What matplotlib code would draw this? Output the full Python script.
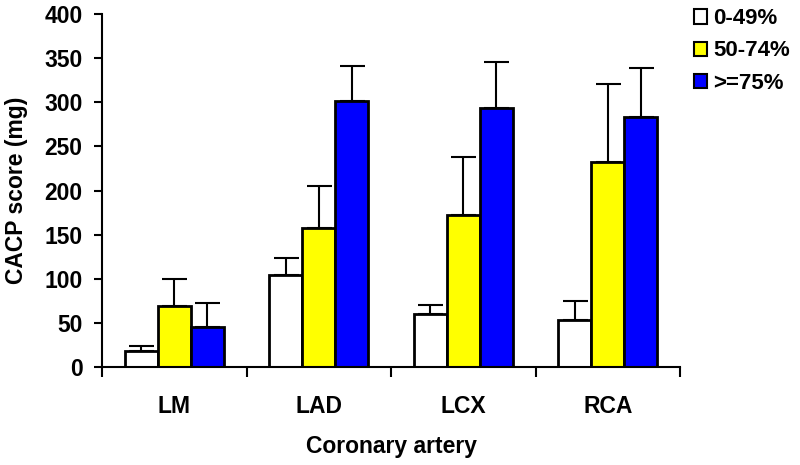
import matplotlib.pyplot as plt
import numpy as np
from matplotlib.patches import Patch

plt.rcParams["font.family"] = ["Liberation Sans", "DejaVu Sans"]
plt.rcParams["font.weight"] = "bold"

arteries = ["LM", "LAD", "LCX", "RCA"]
groups = ["0-49%", "50-74%", ">=75%"]
colors = ["white", "#FFFF00", "#0000FF"]

means = {
    "0-49%": [19, 105, 60, 54],
    "50-74%": [70, 158, 173, 232],
    ">=75%": [46, 301, 293, 283],
}
err_top = {
    "0-49%": [24, 124, 71, 75],
    "50-74%": [100, 205, 238, 321],
    ">=75%": [73, 341, 346, 339],
}

fig = plt.figure(figsize=(8, 4.65), dpi=100)
ax = fig.add_axes([0.1275, 0.21, 0.7225, 0.76])

x = np.arange(len(arteries))
w = 0.228
for i, g in enumerate(groups):
    pos = x + (i - 1) * w
    m = np.array(means[g])
    e = np.array(err_top[g]) - m
    ax.bar(pos, m, w, color=colors[i], edgecolor="black", linewidth=2, zorder=2)
    ax.errorbar(pos, m, yerr=[np.zeros_like(e), e], fmt="none", ecolor="black",
                elinewidth=1.5, capsize=9, capthick=1.5, zorder=1)

ax.set_xlim(-0.5, len(arteries) - 0.5)
ax.set_ylim(0, 400)
ax.set_yticks(np.arange(0, 401, 50))
ax.set_xticks(x)
ax.set_xticklabels(arteries)
ax.set_xticks(np.arange(-0.5, len(arteries), 1), minor=True)
ax.tick_params(axis="x", which="major", length=0, pad=20, labelsize=16.5)
ax.tick_params(axis="x", which="minor", length=7, width=1.5, direction="out")
ax.tick_params(axis="y", length=6, width=1.5, pad=8, labelsize=16.5)
for s in ["top", "right"]:
    ax.spines[s].set_visible(False)
for s in ["left", "bottom"]:
    ax.spines[s].set_linewidth(1.5)

ax.set_ylabel("CACP score (mg)", fontsize=16.5, fontweight="bold", labelpad=12)
ax.set_xlabel("Coronary artery", fontsize=16.5, fontweight="bold", labelpad=12)

handles = [Patch(facecolor=c, edgecolor="black", linewidth=1.5) for c in colors]
fig.legend(handles, groups, loc="upper left", bbox_to_anchor=(0.853, 1.006),
           frameon=False, handlelength=0.6, handleheight=0.6, borderpad=0,
           handletextpad=0.3, labelspacing=0.5, prop={"weight": "bold", "size": 16})

fig.savefig("out.png", dpi=100)
